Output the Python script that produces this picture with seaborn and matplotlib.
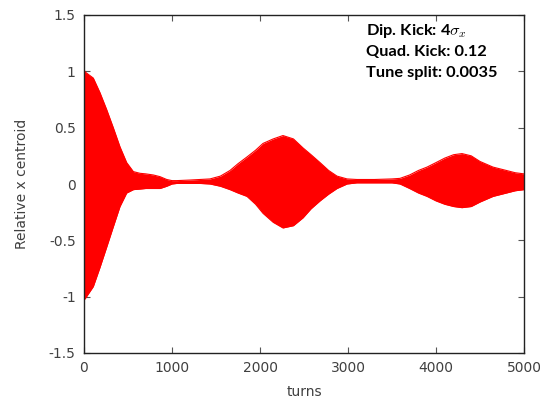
import numpy as np
import pandas as pd
import matplotlib
matplotlib.use("Agg")
import matplotlib.pyplot as plt
import seaborn as sns

# Envelope of the relative horizontal centroid oscillation versus turn number
turns = [0, 20, 106, 182, 258, 333, 409, 485, 561, 636, 700, 788, 864, 940,
         1000, 1054, 1200, 1318, 1432, 1550, 1659, 1750, 1852, 1950, 2034,
         2150, 2261, 2380, 2489, 2580, 2682, 2780, 2875, 2989, 3100, 3300, 3500,
         3591, 3700, 3800, 3898, 4000, 4100, 4200, 4295, 4400, 4500, 4648, 4800,
         4900, 5000]
upper = [1.01, 0.99, 0.94, 0.81, 0.66, 0.50, 0.33, 0.19, 0.11, 0.095, 0.09,
         0.08, 0.065, 0.04, 0.03, 0.03, 0.035, 0.04, 0.045, 0.07, 0.12, 0.18,
         0.24, 0.30, 0.36, 0.40, 0.43, 0.40, 0.32, 0.26, 0.19, 0.12, 0.07, 0.045,
         0.04, 0.04, 0.045, 0.05, 0.08, 0.12, 0.15, 0.19, 0.23, 0.26, 0.27, 0.25,
         0.20, 0.15, 0.12, 0.10, 0.09]
lower = [-1.03, -1.01, -0.91, -0.74, -0.56, -0.38, -0.20, -0.08, -0.05, -0.045,
         -0.04, -0.04, -0.04, -0.02, 0.0, 0.005, 0.005, 0.005, 0.0, -0.02,
         -0.05, -0.08, -0.11, -0.18, -0.26, -0.34, -0.39, -0.37, -0.30, -0.22,
         -0.15, -0.09, -0.04, 0.0, 0.01, 0.01, 0.01, 0.0, -0.04, -0.08, -0.11,
         -0.15, -0.18, -0.20, -0.21, -0.20, -0.16, -0.11, -0.08, -0.06, -0.05]

x_ticks = [0, 1000, 2000, 3000, 4000, 5000]
x_tick_labels = ["0", "1000", "2000", "3000", "4000", "5000"]
y_ticks = [-1.5, -1, -0.5, 0, 0.5, 1, 1.5]
y_tick_labels = ["-1.5", "-1", "-0.5", "0", "0.5", "1", "1.5"]

notes = ["Dip. Kick: 4$\\sigma_x$", "Quad. Kick: 0.12", "Tune split: 0.0035"]

df = pd.DataFrame({"turns": turns, "upper": upper, "lower": lower})

sns.set_style("ticks")
plt.rcParams["font.family"] = ["DejaVu Sans"]
plt.rcParams["mathtext.fontset"] = "cm"

fig = plt.figure(figsize=(5.40, 3.99), dpi=100)
ax = fig.add_axes([84 / 540, 46 / 399, 440 / 540, 338 / 399])

red = "#ff0000"
ax.fill_between(df["turns"], df["lower"], df["upper"], color=red, linewidth=0)
sns.lineplot(data=df, x="turns", y="upper", color=red, linewidth=0.8, ax=ax)
sns.lineplot(data=df, x="turns", y="lower", color=red, linewidth=0.8, ax=ax)

ax.set_xlim(0, 5000)
ax.set_ylim(-1.5, 1.5)
ax.set_xticks(x_ticks)
ax.set_xticklabels(x_tick_labels)
ax.set_yticks(y_ticks)
ax.set_yticklabels(y_tick_labels)

label_color = "#404040"
ax.tick_params(direction="in", length=4, width=0.8, color="#555555",
               top=True, right=True, labelsize=10, labelcolor=label_color, pad=6)
for side in ax.spines.values():
    side.set_color("#222222")
    side.set_linewidth(1.0)
    side.set_visible(True)

ax.set_xlabel("turns", fontsize=10, color=label_color, labelpad=7)
ax.set_ylabel("Relative x centroid", fontsize=10, color=label_color, labelpad=14)

for i, line in enumerate(notes):
    fig.text(366 / 540, 1 - (31 + 21 * i) / 399, line, fontsize=11.8,
             fontweight="bold", family=["Lato", "DejaVu Sans"],
             color="black", va="center", ha="left")

fig.savefig("out.png", dpi=100)
